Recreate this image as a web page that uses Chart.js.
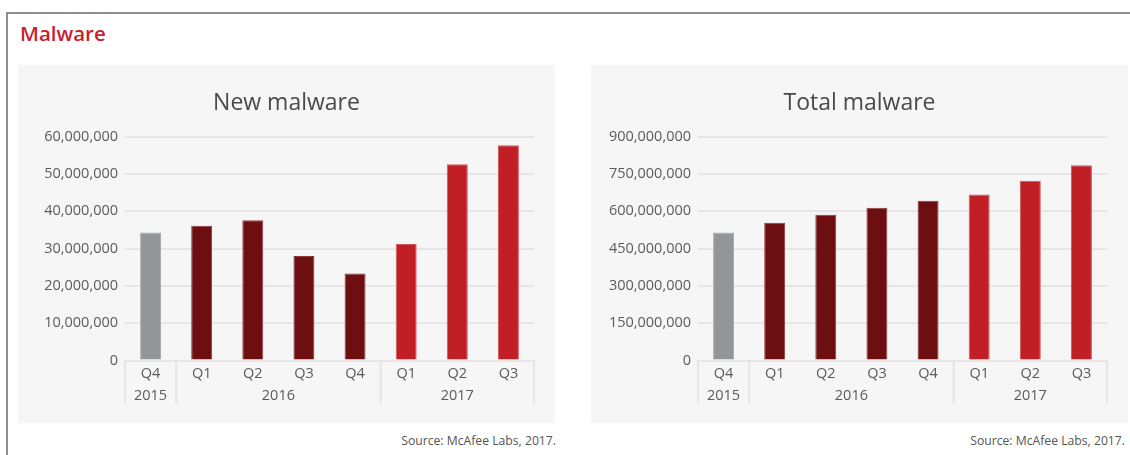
<!DOCTYPE html>
<html>
<head>
<meta charset="utf-8">
<title>Malware</title>
<script src="https://cdn.jsdelivr.net/npm/chart.js@4/dist/chart.umd.min.js"></script>
<style>
  html, body { margin: 0; padding: 0; background: #fff; width: 1130px; height: 455px; overflow: hidden; font-family: "Open Sans", sans-serif; }
  #frame { position: absolute; left: 6px; top: 12px; width: 1140px; height: 460px; border-left: 2px solid #8e8e8e; border-top: 2px solid #8e8e8e; }
  h1 { position: absolute; left: 20px; top: 18px; margin: 0; font-size: 20.5px; font-weight: 600; color: #c8202f; line-height: 30px; }
  .panel { position: absolute; top: 65px; width: 537px; height: 358px; background: #f6f6f6; }
  .panel canvas { display: block; }
  .src { position: absolute; top: 432px; font-size: 12.2px; color: #555; line-height: 18px; }
</style>
</head>
<body>
<div id="frame"></div>
<h1>Malware</h1>
<div class="panel" style="left:18px"><canvas id="newChart" width="537" height="358"></canvas></div>
<div class="panel" style="left:591px"><canvas id="totalChart" width="537" height="358"></canvas></div>
<div class="src" style="right:574px">Source: McAfee Labs, 2017.</div>
<div class="src" style="right:5px">Source: McAfee Labs, 2017.</div>
<script>
// Quarterly malware counts, Q4 2015 – Q3 2017
const quarters = ["Q4", "Q1", "Q2", "Q3", "Q4", "Q1", "Q2", "Q3"];
const years = ["2015", "2016", "2016", "2016", "2016", "2017", "2017", "2017"];
const newMalware = [34300000, 36100000, 37600000, 28000000, 23300000, 31200000, 52600000, 57700000];
const totalMalware = [514600000, 553500000, 585700000, 614000000, 642000000, 667700000, 722800000, 784600000];
const newAxis = { max: 60000000, step: 10000000 };
const totalAxis = { max: 900000000, step: 150000000 };

const yearColors = { "2015": "#939598", "2016": "#6d0e11", "2017": "#c01f26" };
const yearEdges = { "2015": "#a9aaac", "2016": "#8a3b3d", "2017": "#d0575b" };

const FONT = "'Open Sans', sans-serif";
const TEXT = "#5b5b5b";
const GRID = "#e6e6e6";

// Draws the year row under the quarter labels, with separators between year groups
const yearGroups = {
  id: "yearGroups",
  afterDraw(chart, args, opts) {
    const x = chart.scales.x;
    const area = chart.chartArea;
    const ctx = chart.ctx;
    const yrs = opts.years;
    const half = (x.getPixelForValue(1) - x.getPixelForValue(0)) / 2;
    ctx.save();
    ctx.strokeStyle = GRID;
    ctx.lineWidth = 2;
    ctx.fillStyle = TEXT;
    ctx.font = "14.5px " + FONT;
    ctx.textAlign = "center";
    ctx.textBaseline = "middle";
    const sep = px => {
      ctx.beginPath();
      ctx.moveTo(px, area.bottom);
      ctx.lineTo(px, area.bottom + 43);
      ctx.stroke();
    };
    let start = 0;
    for (let i = 1; i <= yrs.length; i++) {
      if (i === yrs.length || yrs[i] !== yrs[start]) {
        const l = x.getPixelForValue(start) - half;
        const r = x.getPixelForValue(i - 1) + half;
        sep(l);
        sep(r);
        ctx.fillText(yrs[start], (l + r) / 2, area.bottom + 35);
        start = i;
      }
    }
    ctx.restore();
  }
};

// Lets long y tick labels use the left padding instead of being clipped to the axis box
const labelRoom = {
  id: "labelRoom",
  afterLayout(chart) {
    chart.scales.y.left = 0;
  }
};

function makeChart(id, title, values, axis) {
  return new Chart(document.getElementById(id), {
    type: "bar",
    data: {
      labels: quarters,
      datasets: [{
        data: values,
        backgroundColor: years.map(y => yearColors[y]),
        borderColor: years.map(y => yearEdges[y]),
        borderWidth: 1,
        borderSkipped: "bottom",
        categoryPercentage: 1,
        barPercentage: 0.41
      }]
    },
    options: {
      responsive: false,
      animation: false,
      layout: { padding: { left: 21, right: 21, top: 0, bottom: 35 } },
      plugins: {
        legend: { display: false },
        tooltip: { enabled: false },
        title: {
          display: true,
          text: title,
          color: "#4a4a4a",
          font: { family: FONT, size: 23, weight: "normal" },
          padding: { top: 25, bottom: 19 }
        },
        yearGroups: { years: years }
      },
      scales: {
        x: {
          grid: { display: false, drawTicks: false },
          border: { display: true, color: GRID, width: 2 },
          ticks: { color: TEXT, font: { family: FONT, size: 14.5 }, padding: 5, maxRotation: 0, autoSkip: false }
        },
        y: {
          min: 0,
          max: axis.max,
          afterFit(scale) { scale.width = 86; },
          grid: { color: GRID, lineWidth: 2, drawTicks: false },
          border: { display: false },
          ticks: {
            stepSize: axis.step,
            color: TEXT,
            font: { family: FONT, size: 14.5 },
            padding: 7,
            callback: v => v.toLocaleString("en-US")
          }
        }
      }
    },
    plugins: [yearGroups, labelRoom]
  });
}

makeChart("newChart", "New malware", newMalware, newAxis);
makeChart("totalChart", "Total malware", totalMalware, totalAxis);
</script>
</body>
</html>
